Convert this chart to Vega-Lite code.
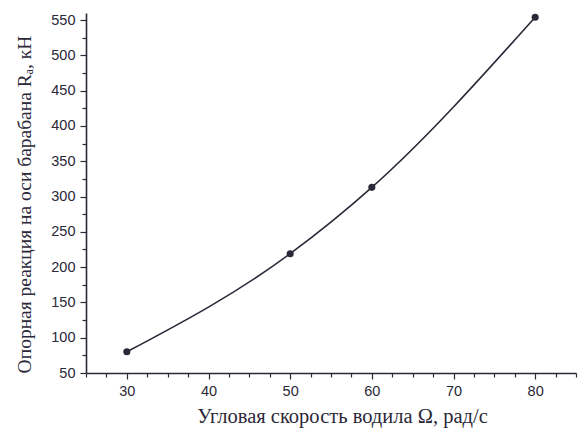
{
  "$schema": "https://vega.github.io/schema/vega-lite/v6.json",
  "width": 490,
  "height": 360,
  "autosize": {"type": "none"},
  "padding": {"left": 86, "top": 13, "right": 8, "bottom": 55},
  "background": "white",
  "config": {
    "view": {"stroke": null},
    "axis": {
      "grid": false,
      "domainColor": "#2b2838",
      "domainWidth": 1.6,
      "tickColor": "#2b2838",
      "tickWidth": 1.2,
      "labelFont": "Liberation Sans",
      "labelFontSize": 14.5,
      "labelColor": "#2b2838",
      "titleFont": "Liberation Serif",
      "titleFontWeight": "normal",
      "titleColor": "#2b2838"
    }
  },
  "data": {
    "values": [
      {"omega": 30, "R": 80},
      {"omega": 50, "R": 219},
      {"omega": 60, "R": 313},
      {"omega": 80, "R": 554}
    ]
  },
  "layer": [
    {
      "mark": {"type": "line", "interpolate": "monotone", "color": "#2b2838", "strokeWidth": 1.6},
      "encoding": {
        "x": {
          "field": "omega", "type": "quantitative",
          "scale": {"domain": [25, 85], "nice": false, "zero": false},
          "axis": {
            "orient": "bottom",
            "values": [30, 40, 50, 60, 70, 80],
            "tickSize": 6, "labelPadding": 5,
            "title": "Угловая скорость водила Ω, рад/с",
            "titleFontSize": 20.5,
            "titleX": 256,
            "titleY": 49,
            "titleAlign": "center",
            "titleBaseline": "alphabetic"
          }
        },
        "y": {
          "field": "R", "type": "quantitative",
          "scale": {"domain": [50, 560], "nice": false, "zero": false},
          "axis": {
            "orient": "left",
            "values": [50, 100, 150, 200, 250, 300, 350, 400, 450, 500, 550],
            "tickSize": 6, "labelPadding": 5,
            "title": "Опорная реакция на оси барабана Rₐ, кН",
            "titleFontSize": 19.5,
            "titleX": -62,
            "titleY": 191,
            "titleAlign": "center",
            "titleBaseline": "middle"
          }
        }
      }
    },
    {
      "mark": {"type": "point", "filled": true, "size": 50, "color": "#2b2838", "opacity": 1},
      "encoding": {
        "x": {"field": "omega", "type": "quantitative", "axis": null},
        "y": {"field": "R", "type": "quantitative", "axis": null}
      }
    },
    {
      "mark": {"type": "point", "opacity": 0},
      "encoding": {
        "x": {
          "field": "omega", "type": "quantitative",
          "axis": {
            "orient": "bottom",
            "values": [25, 27.5, 32.5, 35, 37.5, 42.5, 45, 47.5, 52.5, 55, 57.5, 62.5, 65, 67.5, 72.5, 75, 77.5, 82.5, 85],
            "tickSize": 4, "labels": false, "domain": false, "title": null
          }
        },
        "y": {
          "field": "R", "type": "quantitative",
          "axis": {
            "orient": "left",
            "values": [75, 125, 175, 225, 275, 325, 375, 425, 475, 525],
            "tickSize": 4, "labels": false, "domain": false, "title": null
          }
        }
      }
    }
  ],
  "resolve": {"axis": {"x": "independent", "y": "independent"}}
}
